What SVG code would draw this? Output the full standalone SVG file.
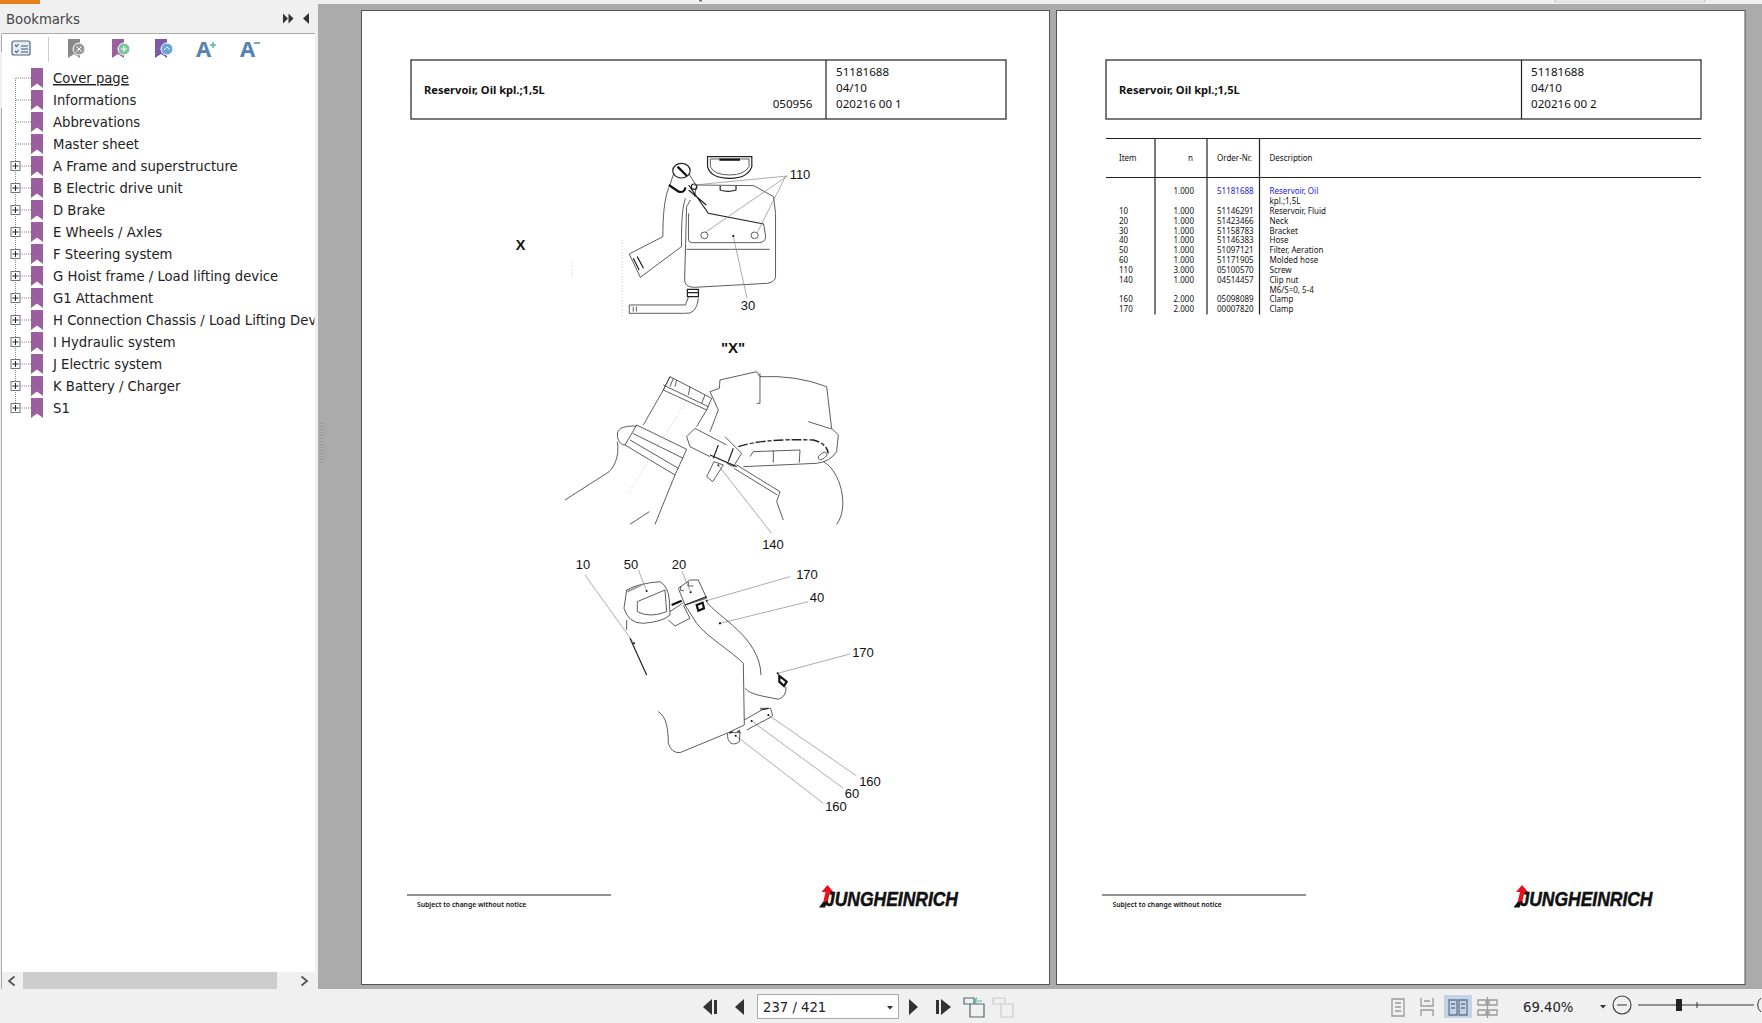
<svg xmlns="http://www.w3.org/2000/svg" width="1762" height="1023" viewBox="0 0 1762 1023">
<style>
text{font-family:"Noto Sans","Liberation Sans",sans-serif;fill:#111}
.bm{font-family:"DejaVu Sans","Noto Sans",sans-serif;font-stretch:condensed;font-size:14.700px;fill:#222}
.ui{font-family:"DejaVu Sans","Noto Sans",sans-serif;font-stretch:condensed;font-size:14.700px;fill:#222}
.hd{font-size:11.600px}
.hb{font-size:11.100px;font-weight:700}
.tb{font-size:8px}
.blue{fill:#1a1ad0}
.n{font-family:"Liberation Sans",Arial,sans-serif;font-size:13px;text-anchor:middle}
.sub{font-size:6.800px;font-weight:600}
.r{text-anchor:end}
.dr path,.dr line,.dr ellipse,.dr circle,.dr rect{fill:none;stroke:#333;stroke-width:.8;vector-effect:non-scaling-stroke}
.dr .lead{stroke:#888;stroke-width:.7}
.dr .thick{stroke:#222;stroke-width:1.200}
.dr .fat{stroke:#111;stroke-width:2.200}
.dr .gray{stroke:#999;stroke-width:1.800}
.dr .dash{stroke:#222;stroke-width:1.400;stroke-dasharray:10 2 4 2}
.dr .dot{fill:#111;stroke:none}
.dr .light{stroke:#bbb;stroke-dasharray:1 2}
.box{fill:none;stroke:#222;stroke-width:1.200}
.rule{stroke:#222;stroke-width:1.200}
.page{fill:#fff;stroke:#555;stroke-width:1}
.plus{fill:#fff;stroke:#777;stroke-width:1}
.tree{stroke:#888;stroke-width:1;stroke-dasharray:1 1;fill:none}
.icon{fill:none;stroke:#999;stroke-width:1.300}
.tri{fill:#333}
.logo{font-family:"Liberation Sans",Arial,sans-serif;font-weight:700;font-style:italic;font-size:20px;fill:#111;stroke:#111;stroke-width:.5}
</style>
<defs>
<path id="rib" fill="#9b5f9e" d="M0 0H12V20L6 15.500L0 20Z"/>
<g id="plusbox"><rect class="plus" x="-4.500" y="-4.500" width="9" height="9"/><path d="M-3 0H3M0 -3V3" stroke="#222" stroke-width="1"/></g>
<g id="logo">
<path d="M8.500 -21L14.500 -14H11L8.500 -3H4L6.500 -14H2.500Z" fill="#e8101a"/>
<path d="M0 1.500H6L8 -4H4Z" fill="#111"/>
<text class="logo" x="6" y="0" textLength="133" lengthAdjust="spacingAndGlyphs">JUNGHEINRICH</text>
</g>
</defs>

<rect width="1762" height="1023" fill="#f0f0f0"/>
<rect x="0" y="0" width="40" height="4" fill="#e8801a"/>
<rect x="318" y="4" width="1444" height="985" fill="#ababab"/>
<rect x="1555" y="0" width="150" height="2" fill="#fff" stroke="#aaa" stroke-width=".6"/>
<rect x="699" y="0" width="3" height="1.500" fill="#777"/>

<g id="sidebar">
<rect x="2" y="33.500" width="313" height="955" fill="#fff"/>
<path d="M2 33.500H315M1.500 34V52M1.500 108V989" stroke="#aaa" fill="none"/>
<text class="ui" x="6" y="24" style="fill:#444">Bookmarks</text>
<path class="tri" d="M283 13.500L288 18.500L283 23.500ZM288.500 13.500L293.500 18.500L288.500 23.500Z"/>
<path class="tri" d="M309 13L303 18.500L309 24Z"/>
<g id="bm-tools">
<rect x="12" y="41" width="18" height="14" rx="2" fill="#e4ecf5" stroke="#567" stroke-width="1.200"/>
<path d="M15 45l1.500 1.500l2-2.500M15 51l1.500 1.500l2-2.500M21 46H28M21 49H28M21 52H28" fill="none" stroke="#456" stroke-width="1.100"/>
<path d="M48.500 37V62" stroke="#ccc"/>
<path d="M68 39H80V58L74 54L68 58Z" fill="#888"/><circle cx="79" cy="49" r="6" fill="#999" stroke="#fff"/><path d="M76.500 46.500l5 5m0-5l-5 5" stroke="#fff"/>
<path d="M112 39H124V58L118 54L112 58Z" fill="#9b5f9e"/><circle cx="124" cy="49" r="6" fill="#7cc3a0" stroke="#fff"/><path d="M121 49h6M124 46v6" stroke="#fff"/>
<path d="M155 39H167V58L161 54L155 58Z" fill="#7b5aa6"/><circle cx="167" cy="49" r="6" fill="#6aa5d8" stroke="#fff"/><path d="M164 50l3-3l3 3" fill="none" stroke="#fff"/>
<text x="196" y="57" style="font-size:22px;font-weight:700;fill:#5683ad">A</text><path d="M210 45h6M213 42v6" stroke="#5ab49a" stroke-width="1.500"/>
<text x="240" y="57" style="font-size:22px;font-weight:700;fill:#5683ad">A</text><path d="M254 43h6" stroke="#5683ad" stroke-width="1.500"/>
</g>
<g id="bm-tree">
<path class="tree" d="M15.500 78V408M16 78H31M16 100H31M16 122H31M16 144H31M16 166H31M16 188H31M16 210H31M16 232H31M16 254H31M16 276H31M16 298H31M16 320H31M16 342H31M16 364H31M16 386H31M16 408H31"/>
<use href="#rib" x="31" y="68"/><use href="#rib" x="31" y="90"/><use href="#rib" x="31" y="112"/><use href="#rib" x="31" y="134"/><use href="#rib" x="31" y="156"/><use href="#rib" x="31" y="178"/><use href="#rib" x="31" y="200"/><use href="#rib" x="31" y="222"/><use href="#rib" x="31" y="244"/><use href="#rib" x="31" y="266"/><use href="#rib" x="31" y="288"/><use href="#rib" x="31" y="310"/><use href="#rib" x="31" y="332"/><use href="#rib" x="31" y="354"/><use href="#rib" x="31" y="376"/><use href="#rib" x="31" y="398"/>
<use href="#plusbox" x="15.500" y="166"/><use href="#plusbox" x="15.500" y="188"/><use href="#plusbox" x="15.500" y="210"/><use href="#plusbox" x="15.500" y="232"/><use href="#plusbox" x="15.500" y="254"/><use href="#plusbox" x="15.500" y="276"/><use href="#plusbox" x="15.500" y="298"/><use href="#plusbox" x="15.500" y="320"/><use href="#plusbox" x="15.500" y="342"/><use href="#plusbox" x="15.500" y="364"/><use href="#plusbox" x="15.500" y="386"/><use href="#plusbox" x="15.500" y="408"/>
<text class="bm" x="53" y="83" text-decoration="underline">Cover page</text>
<text class="bm" x="53" y="105">Informations</text>
<text class="bm" x="53" y="127">Abbrevations</text>
<text class="bm" x="53" y="149">Master sheet</text>
<text class="bm" x="53" y="171">A Frame and superstructure</text>
<text class="bm" x="53" y="193">B Electric drive unit</text>
<text class="bm" x="53" y="215">D Brake</text>
<text class="bm" x="53" y="237">E Wheels / Axles</text>
<text class="bm" x="53" y="259">F Steering system</text>
<text class="bm" x="53" y="281">G Hoist frame / Load lifting device</text>
<text class="bm" x="53" y="303">G1 Attachment</text>
<svg x="0" y="310" width="314.500" height="24"><text class="bm" x="53" y="15">H Connection Chassis / Load Lifting Device</text></svg>
<text class="bm" x="53" y="347">I Hydraulic system</text>
<text class="bm" x="53" y="369">J Electric system</text>
<text class="bm" x="53" y="391">K Battery / Charger</text>
<text class="bm" x="53" y="413">S1</text>
</g>
<rect x="2" y="972" width="313" height="17" fill="#f0f0f0"/>
<rect x="23" y="972" width="254" height="17" fill="#cdcdcd"/>
<path d="M14.500 976.500L9 981L14.500 985.500M301.500 976.500L307 981L301.500 985.500" fill="none" stroke="#555" stroke-width="1.800"/>
<path d="M321 423V463M323.500 423V463" stroke="#888" stroke-dasharray="1 2"/>
</g>

<g id="page-left">
<rect class="page" x="361.500" y="10.500" width="688" height="974"/>
<rect class="box" x="411" y="60" width="595" height="59"/>
<path class="rule" d="M826 60V119"/>
<text class="hb" x="424" y="94">Reservoir, Oil kpl.;1,5L</text>
<text class="hd r" x="812.500" y="108">050956</text>
<text class="hd" x="836" y="76">51181688</text>
<text class="hd" x="836" y="92">04/10</text>
<text class="hd" x="836" y="108">020216 00 1</text>

<g id="drawing-top" class="dr" transform="translate(400 50) scale(.3953 .3333)">
<ellipse class="thick" cx="712" cy="362" rx="22" ry="22"/>
<line class="fat" x1="702" y1="350" x2="726" y2="378"/>
<path d="M692 372L682 408M732 374L750 408L745 440"/>
<path class="fat" d="M680 405L705 425Q720 430 722 412"/>
<path d="M680 412C668 450 665 500 665 560L580 612L608 682L712 590C712 540 712 480 722 445"/>
<path class="thick" d="M590 625L605 660M600 620L616 655"/>
<path class="thick" d="M778 320H890V350Q880 385 835 385Q785 385 778 350Z"/>
<path d="M785 327H883V350Q870 375 835 375Q795 375 785 350Z"/>
<path class="fat" d="M808 329H860"/>
<path d="M745 405L895 407L945 440L950 490V680Q950 695 930 700L745 712Q720 712 720 690L725 470L735 450"/>
<path class="thick" d="M810 407V420Q830 428 850 420V407"/>
<path class="thick" d="M730 405L780 490L920 522M730 420L775 465"/>
<path d="M730 490V570Q730 578 740 578H905Q925 578 925 560L920 522"/>
<line x1="725" y1="598" x2="935" y2="598"/>
<ellipse cx="770" cy="556" rx="9" ry="10"/><ellipse cx="897" cy="556" rx="9" ry="10"/>
<ellipse class="thick" cx="744" cy="410" rx="7" ry="8"/>
<path class="lead" d="M980 378L745 405M980 378L775 545M975 380L905 545M843 558L878 745"/>
<circle class="dot" cx="843" cy="558" r="3"/>
<path class="thick" d="M727 718H755V740H727ZM727 728H755"/>
<path d="M730 740L722 765H580V790H720Q750 795 755 745M590 770V785M598 770V785"/>
<path class="light" d="M562 570V800M435 640V680"/>
</g>

<g id="drawing-x" class="dr" transform="translate(530 330) scale(.3333)">
<path d="M420 140L545 205L530 240L400 180ZM420 140L400 180L340 285M530 240L500 290M430 145L420 170M440 150L435 170M480 170L475 195M525 195L515 220"/>
<path d="M400 165L535 230"/>
<path d="M320 285L470 358L435 435L285 345ZM308 310L460 385M300 330L445 415"/>
<path d="M320 288Q255 285 262 320Q268 345 285 345M262 335C270 380 250 420 230 430L105 510M435 435L375 583M358 545L300 583"/>
<path class="light" d="M465 220L295 490"/>
<path d="M495 295L590 345M470 320L495 295M470 320L480 350L540 380"/>
<path class="thick" d="M565 345L550 385M610 355L595 395M540 375L620 410"/>
<path d="M585 320L635 370L610 410L590 400M530 440L548 455L580 405L552 395ZM620 405L750 485L740 515L760 570M612 415L742 495"/>
<circle class="dot" cx="565" cy="406" r="3"/>
<path class="lead" d="M565 406L725 610"/>
<path d="M570 150L680 125L690 140Q800 135 890 170L905 295L925 315L920 365Q900 395 860 400L640 410M570 150L568 175L540 185L565 240L540 305"/>
<path d="M690 130V220H680M835 275L905 297"/>
<path class="dash" d="M625 350Q700 325 850 330Q890 340 895 370"/>
<path d="M660 380L670 365L810 360L808 398M730 362V398"/>
<ellipse cx="878" cy="378" rx="15" ry="8" transform="rotate(-35 878 378)"/>
<path d="M880 395C930 420 960 530 920 583"/>
</g>

<g id="drawing-bottom" class="dr" transform="translate(550 540) scale(.3333)">
<path class="lead" d="M105 105L252 310M265 90L290 153M395 92L422 157M720 110L470 182M775 185L510 250M900 342L683 400M920 708L655 525M880 745L605 543M820 790L557 587"/>
<circle class="dot" cx="252" cy="310" r="3"/><circle class="dot" cx="290" cy="153" r="3"/><circle class="dot" cx="422" cy="157" r="3"/><circle class="dot" cx="470" cy="182" r="3"/><circle class="dot" cx="510" cy="250" r="3.500"/><circle class="dot" cx="683" cy="400" r="3"/><circle class="dot" cx="655" cy="525" r="3"/><circle class="dot" cx="605" cy="543" r="3"/><circle class="dot" cx="557" cy="587" r="3"/>
<path class="thick" d="M240 295L290 405"/>
<path d="M230 150Q265 130 330 125Q355 140 358 180L360 225Q340 245 280 250Q235 250 222 205Z"/>
<path d="M262 185L345 150"/>
<path class="gray" d="M232 155L275 135"/>
<path d="M262 185L262 215Q300 235 350 215L345 150"/>
<path d="M230 240V270M355 240L375 258L420 235L400 195M360 215L400 188"/>
<path class="fat" d="M365 195L395 182"/>
<path d="M385 145L420 120L445 120L470 175L405 195ZM392 138V152H402M415 125V138H430"/>
<path class="thick" d="M405 195L470 170"/>
<path class="fat" d="M440 195L458 188L462 205L445 212Z"/>
<path d="M470 185C500 230 630 290 633 405M405 195L440 250C470 290 540 330 580 370L583 555"/>
<path d="M585 445C600 465 650 470 685 478Q710 470 708 440"/>
<path class="fat" d="M688 408L710 425L702 438L688 425Z"/>
<path d="M325 515C350 530 355 570 355 610Q365 640 390 638L535 578L583 555"/>
<path d="M583 540L635 510M590 570L665 530M630 505L662 505L668 528"/>
<path class="thick" d="M632 510L655 505"/>
<path d="M533 580C530 610 550 620 568 605L570 575M538 578H572"/>
<path class="thick" d="M538 580L548 575M562 575L570 572"/>
</g>

<text class="n" style="font-weight:700;font-size:14.500px" x="520.500" y="250">X</text>
<text class="n" x="800" y="179">110</text>
<text class="n" x="748" y="310">30</text>
<text class="n" style="font-weight:700;font-size:15px" x="733" y="353">"X"</text>
<text class="n" x="773" y="549">140</text>
<text class="n" x="583" y="569">10</text>
<text class="n" x="631" y="569">50</text>
<text class="n" x="679" y="569">20</text>
<text class="n" x="807" y="579">170</text>
<text class="n" x="817" y="602">40</text>
<text class="n" x="863" y="657">170</text>
<text class="n" x="870" y="786">160</text>
<text class="n" x="852" y="798">60</text>
<text class="n" x="836" y="811">160</text>

<path class="rule" d="M407 895H611"/>
<text class="sub" x="417" y="907">Subject to change without notice</text>
<use href="#logo" x="819" y="906"/>
</g>

<g id="page-right">
<rect class="page" x="1056.500" y="10.500" width="688.500" height="974"/>
<rect class="box" x="1106" y="60" width="595" height="59"/>
<path class="rule" d="M1521.500 60V119"/>
<text class="hb" x="1119" y="94">Reservoir, Oil kpl.;1,5L</text>
<text class="hd" x="1531" y="76">51181688</text>
<text class="hd" x="1531" y="92">04/10</text>
<text class="hd" x="1531" y="108">020216 00 2</text>
<path class="rule" d="M1106 138.500H1701M1106 177.500H1701M1155 138.500V314.500M1207 138.500V314.500M1259.500 138.500V314.500"/>
<g id="table">
<text class="tb" x="1119" y="161">Item</text><text class="tb r" x="1193" y="161">n</text><text class="tb" x="1217" y="161">Order-Nr.</text><text class="tb" x="1269.500" y="161">Description</text>
<text class="tb r" x="1194" y="194">1.000</text><text class="tb blue" x="1217" y="194">51181688</text><text class="tb blue" x="1269.500" y="194">Reservoir, Oil</text>
<text class="tb" x="1269.500" y="204">kpl.;1,5L</text>
<text class="tb" x="1119" y="214">10</text><text class="tb r" x="1194" y="214">1.000</text><text class="tb" x="1217" y="214">51146291</text><text class="tb" x="1269.500" y="214">Reservoir, Fluid</text>
<text class="tb" x="1119" y="224">20</text><text class="tb r" x="1194" y="224">1.000</text><text class="tb" x="1217" y="224">51423466</text><text class="tb" x="1269.500" y="224">Neck</text>
<text class="tb" x="1119" y="234">30</text><text class="tb r" x="1194" y="234">1.000</text><text class="tb" x="1217" y="234">51158783</text><text class="tb" x="1269.500" y="234">Bracket</text>
<text class="tb" x="1119" y="243">40</text><text class="tb r" x="1194" y="243">1.000</text><text class="tb" x="1217" y="243">51146383</text><text class="tb" x="1269.500" y="243">Hose</text>
<text class="tb" x="1119" y="253">50</text><text class="tb r" x="1194" y="253">1.000</text><text class="tb" x="1217" y="253">51097121</text><text class="tb" x="1269.500" y="253">Filter, Aeration</text>
<text class="tb" x="1119" y="263">60</text><text class="tb r" x="1194" y="263">1.000</text><text class="tb" x="1217" y="263">51171905</text><text class="tb" x="1269.500" y="263">Molded hose</text>
<text class="tb" x="1119" y="273">110</text><text class="tb r" x="1194" y="273">3.000</text><text class="tb" x="1217" y="273">05100570</text><text class="tb" x="1269.500" y="273">Screw</text>
<text class="tb" x="1119" y="283">140</text><text class="tb r" x="1194" y="283">1.000</text><text class="tb" x="1217" y="283">04514457</text><text class="tb" x="1269.500" y="283">Clip nut</text>
<text class="tb" x="1269.500" y="293">M6/S=0, 5-4</text>
<text class="tb" x="1119" y="302">160</text><text class="tb r" x="1194" y="302">2.000</text><text class="tb" x="1217" y="302">05098089</text><text class="tb" x="1269.500" y="302">Clamp</text>
<text class="tb" x="1119" y="312">170</text><text class="tb r" x="1194" y="312">2.000</text><text class="tb" x="1217" y="312">00007820</text><text class="tb" x="1269.500" y="312">Clamp</text>
</g>
<path class="rule" d="M1102 895H1306"/>
<text class="sub" x="1112.500" y="907">Subject to change without notice</text>
<use href="#logo" x="1513.500" y="906"/>
</g>

<g id="statusbar">
<path class="tri" d="M712 999V1015L703 1007ZM714 1000H717V1014H714Z"/>
<path class="tri" d="M744 999V1015L735 1007Z"/>
<rect x="757.500" y="994.500" width="141" height="24" fill="#fff" stroke="#aaa"/>
<text class="ui" x="763" y="1012">237 / 421</text>
<path class="tri" d="M887 1006H893L890 1009.500Z"/>
<path class="tri" d="M909 999V1015L918 1007Z"/>
<path class="tri" d="M936 1000H939V1014H936ZM941 999V1015L951 1007Z"/>
<path d="M964 998h10v6h-10zM970 1004H984V1017H970Z" fill="none" stroke="#567" stroke-width="1.200"/><path d="M974 1001h8M977 998l-3 3l3 3" fill="none" stroke="#5ab49a" stroke-width="1.200"/>
<path d="M993 998h12v6h-12zM1001 1004H1013V1017H1001Z" fill="none" stroke="#ccc" stroke-width="1.200"/>
<rect x="1444" y="995" width="28" height="23" fill="#c3d3ea"/>
<path class="icon" d="M1392 999H1404V1016H1392ZM1395 1003H1401M1395 1007H1401M1395 1011H1401"/>
<path class="icon" d="M1421 998V1006H1433V998M1421 1016V1010H1433V1016M1424 1001H1430"/>
<path class="icon" style="stroke:#678" d="M1449 1000H1457V1015H1449ZM1459 1000H1467V1015H1459ZM1451 1004H1455M1451 1008H1455M1461 1004H1465M1461 1008H1465"/>
<path class="icon" d="M1478 1000H1486V1005H1478ZM1489 1000H1497V1005H1489ZM1478 1010H1486V1015H1478ZM1489 1010H1497V1015H1489ZM1487.500 997V1018"/>
<text class="ui" x="1523" y="1012">69.40%</text>
<path class="tri" d="M1600 1005H1606L1603 1008.500Z"/>
<circle cx="1622" cy="1005" r="9" fill="none" stroke="#333" stroke-width="1.100"/><path d="M1617 1005H1627" stroke="#333"/>
<path d="M1638 1005H1754M1697 1002V1008" stroke="#333"/>
<rect x="1676" y="999" width="6" height="12" fill="#222"/>
<path d="M1761 998A9 9 0 0 0 1761 1012" fill="none" stroke="#333"/>
</g>
</svg>
